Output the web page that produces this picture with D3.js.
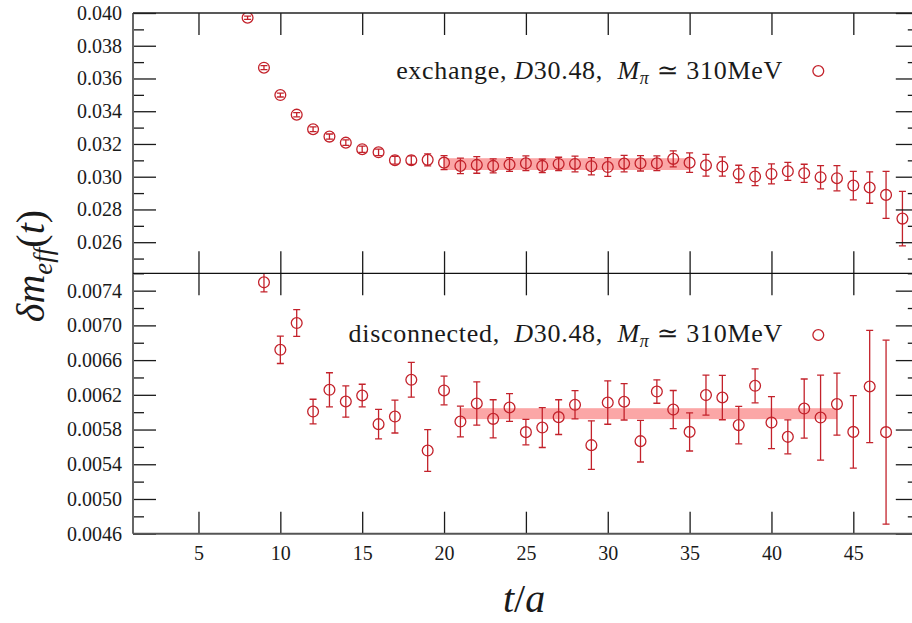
<!DOCTYPE html>
<html>
<head>
<meta charset="utf-8">
<script src="https://cdn.jsdelivr.net/npm/d3@7"></script>
<style>
  body { margin: 0; background: #fff; }
  svg { display: block; }
  text { font-family: "Liberation Serif", "DejaVu Serif", "Noto Serif", "Tinos", "FreeSerif", serif; fill: #1a1a1a; }
</style>
</head>
<body>
<svg id="chart" width="912" height="623"></svg>
<script>
// Exchange contribution: effective mass difference vs t/a
const tExchange = [8, 9, 10, 11, 12, 13, 14, 15, 16, 17, 18, 19, 20, 21, 22, 23, 24, 25, 26, 27, 28,
  29, 30, 31, 32, 33, 34, 35, 36, 37, 38, 39, 40, 41, 42, 43, 44, 45, 46, 47, 48];
const exchangeValue = [0.03971, 0.03666, 0.03499, 0.03379, 0.03290, 0.03245, 0.03208, 0.03168, 0.03149,
  0.03101, 0.03101, 0.03103, 0.03086, 0.03066, 0.03072, 0.03066, 0.03074, 0.03082, 0.03066, 0.03078,
  0.03078, 0.03064, 0.03059, 0.03080, 0.03082, 0.03082, 0.03109, 0.03086, 0.03070, 0.03062, 0.03017,
  0.03001, 0.03017, 0.03033, 0.03021, 0.02997, 0.02991, 0.02946, 0.02934, 0.02889, 0.02744];
const exchangeError = [0.00010, 0.00012, 0.00012, 0.00013, 0.00014, 0.00016, 0.00017, 0.00019, 0.00020,
  0.00024, 0.00026, 0.00037, 0.00043, 0.00047, 0.00051, 0.00043, 0.00042, 0.00045, 0.00041, 0.00041,
  0.00048, 0.00053, 0.00057, 0.00050, 0.00047, 0.00045, 0.00049, 0.00059, 0.00067, 0.00059, 0.00053,
  0.00055, 0.00061, 0.00055, 0.00055, 0.00071, 0.00077, 0.00087, 0.00096, 0.00144, 0.00167];
const exchangeFitRange = [20, 35];
const exchangeFit = [0.03077, 0.00036];   // central value, half width

// Disconnected contribution
const tDisconnected = [9, 10, 11, 12, 13, 14, 15, 16, 17, 18, 19, 20, 21, 22, 23, 24, 25, 26, 27, 28,
  29, 30, 31, 32, 33, 34, 35, 36, 37, 38, 39, 40, 41, 42, 43, 44, 45, 46, 47];
const disconnectedValue = [0.007496, 0.006719, 0.007027, 0.006007, 0.006258, 0.006123, 0.006192, 0.005862,
  0.005950, 0.006373, 0.005558, 0.006250, 0.005892, 0.006100, 0.005923, 0.006054, 0.005770, 0.005823,
  0.005943, 0.006085, 0.005620, 0.006111, 0.006120, 0.005666, 0.006238, 0.006030, 0.005773, 0.006197,
  0.006169, 0.005851, 0.006304, 0.005880, 0.005716, 0.006042, 0.005938, 0.006093, 0.005773, 0.006296,
  0.005770];
const disconnectedError = [0.000111, 0.000158, 0.000154, 0.000142, 0.000196, 0.000180, 0.000130, 0.000170,
  0.000190, 0.000200, 0.000240, 0.000165, 0.000177, 0.000250, 0.000220, 0.000160, 0.000146, 0.000230,
  0.000200, 0.000163, 0.000280, 0.000250, 0.000210, 0.000240, 0.000135, 0.000220, 0.000220, 0.000230,
  0.000256, 0.000215, 0.000196, 0.000300, 0.000196, 0.000340, 0.000490, 0.000358, 0.000417, 0.000646,
  0.001060];
const disconnectedFitRange = [21, 44];
const disconnectedFit = [0.005983, 0.000063];

// Axis ticks
const xTicks = [5, 10, 15, 20, 25, 30, 35, 40, 45];
const topMajor = [0.026, 0.028, 0.030, 0.032, 0.034, 0.036, 0.038, 0.040];
const topMinor = [0.025, 0.027, 0.029, 0.031, 0.033, 0.035, 0.037, 0.039];
const botMajor = [0.0046, 0.0050, 0.0054, 0.0058, 0.0062, 0.0066, 0.0070, 0.0074];
const botMinor = [0.0048, 0.0052, 0.0056, 0.0060, 0.0064, 0.0068, 0.0072, 0.0076];

const RED = "#c3222b";
const BAND = "#fb9c9c";

const svg = d3.select("#chart");
svg.append("rect").attr("width", 912).attr("height", 623).attr("fill", "#fff");

const x = d3.scaleLinear().domain([1, 49]).range([133, 918.8]);
const yTop = d3.scaleLinear().domain([0.0241, 0.040]).range([273.3, 13]);
const yBot = d3.scaleLinear().domain([0.0046, 0.0076]).range([533.7, 273.3]);

const panels = [
  { y: yTop, t: tExchange, v: exchangeValue, e: exchangeError, fitR: exchangeFitRange, fit: exchangeFit,
    major: topMajor, minor: topMinor, fmt: d3.format(".3f"), id: "top",
    label: ["exchange, ", "D", "30.48,  "], legendY: 79, markerY: 71 },
  { y: yBot, t: tDisconnected, v: disconnectedValue, e: disconnectedError, fitR: disconnectedFitRange, fit: disconnectedFit,
    major: botMajor, minor: botMinor, fmt: d3.format(".4f"), id: "bot",
    label: ["disconnected,  ", "D", "30.48,  "], legendY: 341.7, markerY: 335 }
];

const defs = svg.append("defs");

panels.forEach(p => {
  const [y0, y1] = p.y.range();
  defs.append("clipPath").attr("id", "clip-" + p.id)
    .append("rect").attr("x", x.range()[0]).attr("y", y1)
    .attr("width", x.range()[1] - x.range()[0]).attr("height", y0 - y1);

  const g = svg.append("g").attr("clip-path", `url(#clip-${p.id})`);

  // fit band
  g.append("rect")
    .attr("x", x(p.fitR[0])).attr("width", x(p.fitR[1]) - x(p.fitR[0]))
    .attr("y", p.y(p.fit[0] + p.fit[1])).attr("height", p.y(p.fit[0] - p.fit[1]) - p.y(p.fit[0] + p.fit[1]))
    .attr("fill", BAND).attr("opacity", 0.9);

  const pts = p.t.map((t, i) => ({ t, v: p.v[i], e: p.e[i] }));
  const eb = g.append("g").attr("stroke", RED).attr("stroke-width", 1.3).attr("fill", "none");
  eb.selectAll("line.bar").data(pts).join("line").attr("class", "bar")
    .attr("x1", d => x(d.t)).attr("x2", d => x(d.t))
    .attr("y1", d => p.y(d.v - d.e)).attr("y2", d => p.y(d.v + d.e));
  ["lo", "hi"].forEach(k => {
    eb.selectAll("line.cap-" + k).data(pts).join("line").attr("class", "cap-" + k)
      .attr("x1", d => x(d.t) - 3.5).attr("x2", d => x(d.t) + 3.5)
      .attr("y1", d => p.y(k === "lo" ? d.v - d.e : d.v + d.e))
      .attr("y2", d => p.y(k === "lo" ? d.v - d.e : d.v + d.e));
  });
  g.append("g").selectAll("circle").data(pts).join("circle")
    .attr("cx", d => x(d.t)).attr("cy", d => p.y(d.v)).attr("r", 5.4)
    .attr("fill", "none").attr("stroke", RED).attr("stroke-width", 1.3);

  // axes / ticks
  const tickStyle = sel => {
    sel.attr("font-family", null);
    sel.select(".domain").remove();
    sel.selectAll(".tick line").attr("stroke", "#1a1a1a").attr("stroke-width", 1.3);
    sel.selectAll(".tick text").attr("font-size", 20).attr("fill", "#1a1a1a");
  };
  svg.append("g").attr("transform", `translate(${x.range()[0]},0)`)
    .call(d3.axisLeft(p.y).tickValues(p.major).tickSize(-23).tickPadding(11).tickFormat(p.fmt)).call(tickStyle);
  svg.append("g").attr("transform", `translate(${x.range()[0]},0)`)
    .call(d3.axisLeft(p.y).tickValues(p.minor).tickSize(-11).tickFormat("")).call(tickStyle);
  svg.append("g").attr("transform", `translate(${x.range()[1]},0)`)
    .call(d3.axisRight(p.y).tickValues(p.major).tickSize(-23).tickFormat("")).call(tickStyle);
  svg.append("g").attr("transform", `translate(${x.range()[1]},0)`)
    .call(d3.axisRight(p.y).tickValues(p.minor).tickSize(-11).tickFormat("")).call(tickStyle);
  svg.append("g").attr("transform", `translate(0,${y1})`)
    .call(d3.axisTop(x).tickValues(xTicks).tickSize(-22).tickFormat("")).call(tickStyle);
  const bottomAxis = d3.axisBottom(x).tickValues(xTicks).tickSize(-22).tickPadding(12);
  if (p.id === "top") bottomAxis.tickFormat("");
  svg.append("g").attr("transform", `translate(0,${y0})`).call(bottomAxis).call(tickStyle);

  // legend
  const lt = svg.append("text").attr("x", 783).attr("y", p.legendY).attr("text-anchor", "end")
    .attr("font-size", 26).attr("letter-spacing", 0.7).style("white-space", "pre");
  lt.append("tspan").text(p.label[0]);
  lt.append("tspan").attr("font-style", "italic").text(p.label[1]);
  lt.append("tspan").text(p.label[2]);
  lt.append("tspan").attr("font-style", "italic").text("M");
  lt.append("tspan").attr("font-style", "italic").attr("font-size", 18).attr("dy", 5).text("π");
  lt.append("tspan").attr("dy", -5).text(" ≃ 310MeV");
  svg.append("circle").attr("cx", 818.3).attr("cy", p.markerY).attr("r", 5.4)
    .attr("fill", "none").attr("stroke", RED).attr("stroke-width", 1.3);
});

// frame
const fr = svg.append("g");
fr.append("line").attr("x1", 133).attr("x2", 133).attr("y1", 13).attr("y2", 533.7).attr("stroke", "#666").attr("stroke-width", 2);
fr.append("line").attr("x1", 133).attr("x2", 918.8).attr("y1", 533.7).attr("y2", 533.7).attr("stroke", "#555").attr("stroke-width", 2);
fr.append("line").attr("x1", 133).attr("x2", 918.8).attr("y1", 13).attr("y2", 13).attr("stroke", "#222").attr("stroke-width", 1.3);
fr.append("line").attr("x1", 133).attr("x2", 918.8).attr("y1", 273.3).attr("y2", 273.3).attr("stroke", "#111").attr("stroke-width", 1.3);
fr.append("line").attr("x1", 918.8).attr("x2", 918.8).attr("y1", 13).attr("y2", 533.7).attr("stroke", "#555").attr("stroke-width", 2);

// axis titles
const xl = svg.append("text").attr("x", 524).attr("y", 612).attr("text-anchor", "middle").attr("font-size", 40);
xl.append("tspan").attr("font-style", "italic").text("t");
xl.append("tspan").text("/");
xl.append("tspan").attr("font-style", "italic").text("a");

const yl = svg.append("text").attr("transform", "translate(44,266) rotate(-90)")
  .attr("text-anchor", "middle").attr("font-size", 40);
yl.append("tspan").attr("font-style", "italic").text("δm");
yl.append("tspan").attr("font-style", "italic").attr("font-size", 27).attr("dy", 8).text("eff");
yl.append("tspan").attr("dy", -8).text("(");
yl.append("tspan").attr("font-style", "italic").text("t");
yl.append("tspan").text(")");
</script>
</body>
</html>
